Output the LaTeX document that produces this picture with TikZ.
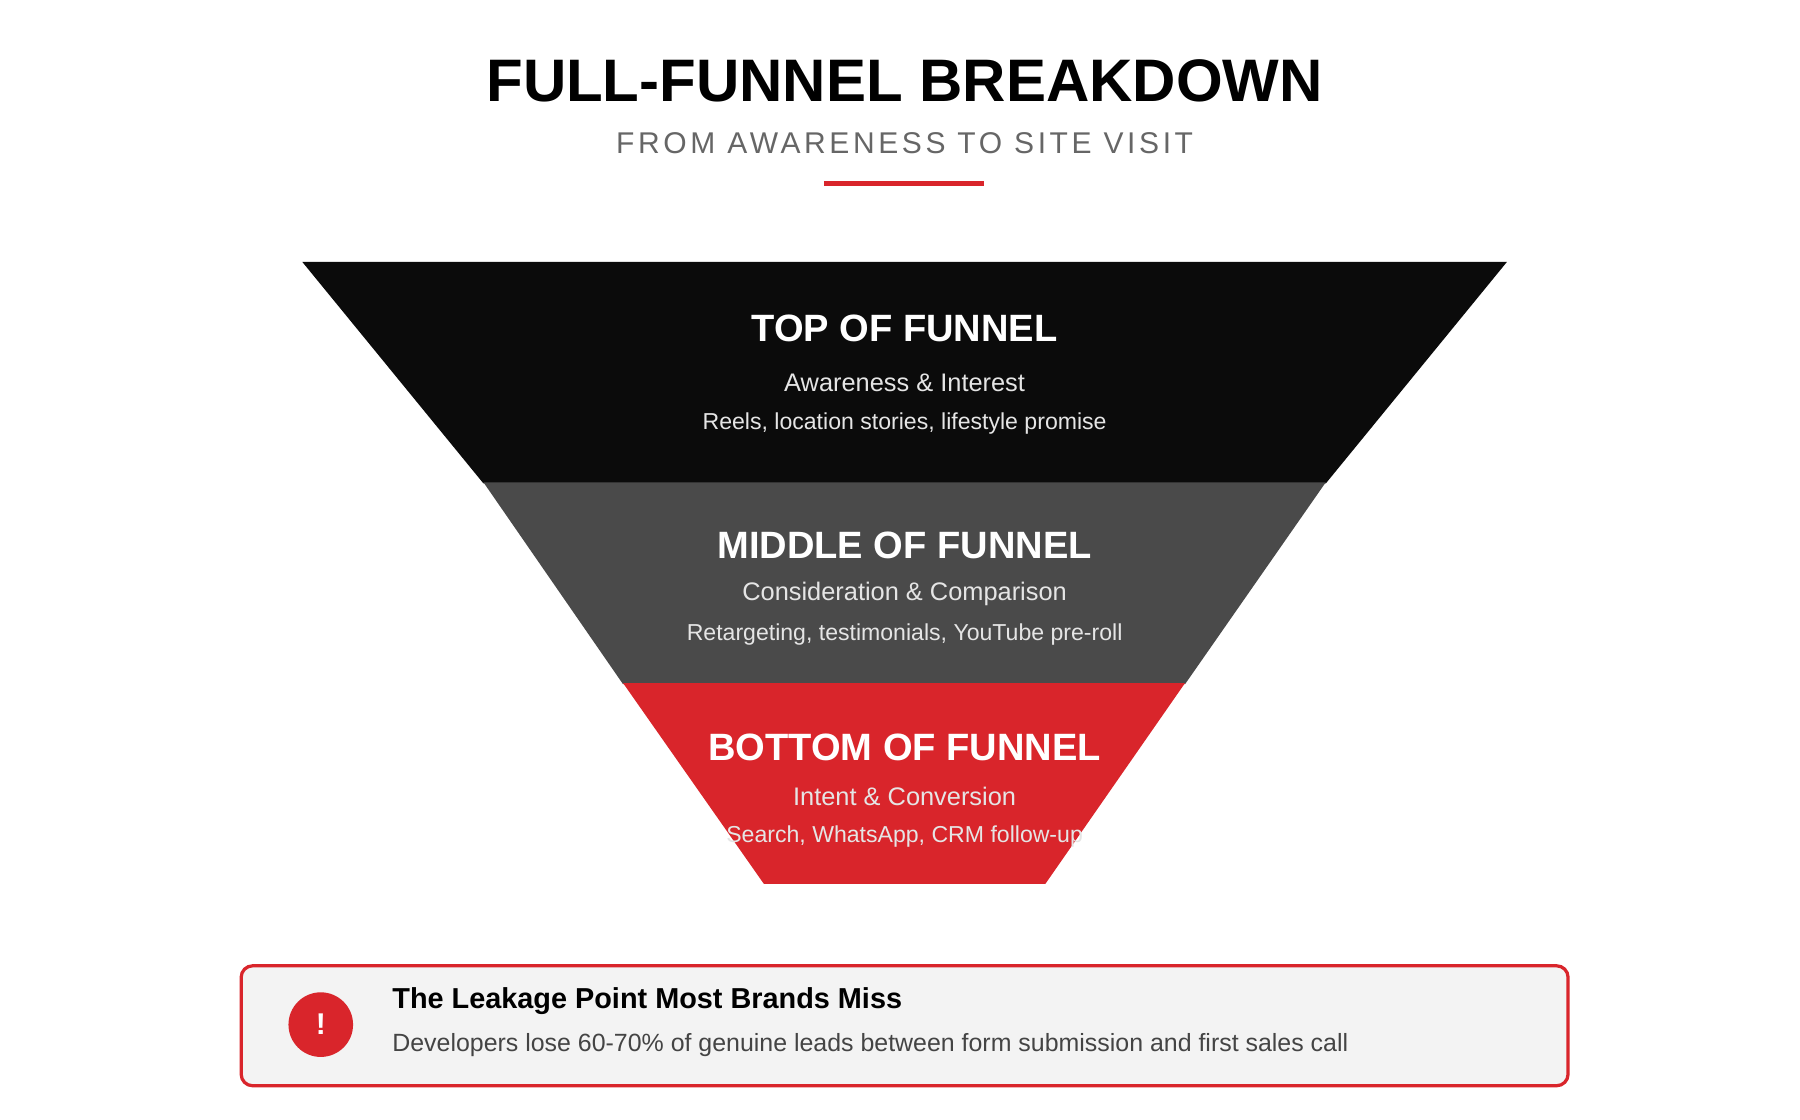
\documentclass[tikz,border=0pt]{standalone}
\usepackage{fontspec}
\setmainfont{Liberation Sans}
\usetikzlibrary{positioning}
\definecolor{funnelblack}{HTML}{0B0B0B}
\definecolor{funnelgray}{HTML}{4A4A4A}
\definecolor{funnelred}{HTML}{D9252B}
\definecolor{boxgray}{HTML}{F3F3F3}
\definecolor{subgray}{HTML}{666666}
\definecolor{bodygray}{HTML}{444444}
\begin{document}
\begin{tikzpicture}[x=0.5pt,y=-0.5pt,
    stage title/.style={text=white,font=\bfseries\fontsize{16.5}{19}\selectfont},
    stage sub/.style={text=white!90!black,font=\fontsize{11}{13}\selectfont},
    stage note/.style={text=white!90!black,font=\fontsize{10}{12}\selectfont}]
  \useasboundingbox (0,0) rectangle (1560,970);

  %Header%
  \node (title) at (784,70) {\bfseries\fontsize{26}{30}\selectfont FULL-FUNNEL BREAKDOWN};
  \node[text=subgray] (subtitle) at (784,124)
    {\addfontfeature{LetterSpace=12}\fontsize{13}{15}\selectfont FROM AWARENESS TO SITE VISIT};
  \coordinate (ruleL) at (714,159);
  \coordinate (ruleR) at (853,159);
  \draw[funnelred,line width=2pt] (ruleL) -- (ruleR);

  %Funnel%
  \fill[funnelblack] (262,227) -- (1306,227) -- (1149,419) -- (419,419) -- cycle;
  \fill[funnelgray] (419,418) -- (1149,418) -- (1027,593) -- (540,593) -- cycle;
  \fill[funnelred] (540,592) -- (1027,592) -- (906,766) -- (662,766) -- cycle;

  \node[stage title] (top) at (784,285) {TOP OF FUNNEL};
  \node[stage sub] (topsub) at (784,332) {Awareness \& Interest};
  \node[stage note] (topnote) at (784,367) {Reels, location stories, lifestyle promise};

  \node[stage title] (mid) at (784,473) {MIDDLE OF FUNNEL};
  \node[stage sub] (midsub) at (784,515) {Consideration \& Comparison};
  \node[stage note] (midnote) at (784,550) {Retargeting, testimonials, YouTube pre-roll};

  \node[stage title] (bot) at (784,648) {BOTTOM OF FUNNEL};
  \node[stage sub] (botsub) at (784,690) {Intent \& Conversion};
  \node[stage note] (botnote) at (784,725) {Search, WhatsApp, CRM follow-up};

  %Leakage box%
  \draw[funnelred,line width=1.4pt,fill=boxgray,rounded corners=5pt] (209,837) rectangle (1359,941);
  \node[circle,fill=funnelred,minimum size=28pt,inner sep=0pt,text=white,
        font=\bfseries\fontsize{13}{15}\selectfont] (alert) at (278,888) {!};
  \node[anchor=west,font=\bfseries\fontsize{12.5}{15}\selectfont] (leaktitle) at (333,868)
    {The Leakage Point Most Brands Miss};
  \node[anchor=west,text=bodygray,font=\fontsize{10.8}{13}\selectfont] (leakbody) at (333,906)
    {Developers lose 60-70\% of genuine leads between form submission and first sales call};
\end{tikzpicture}
\end{document}
